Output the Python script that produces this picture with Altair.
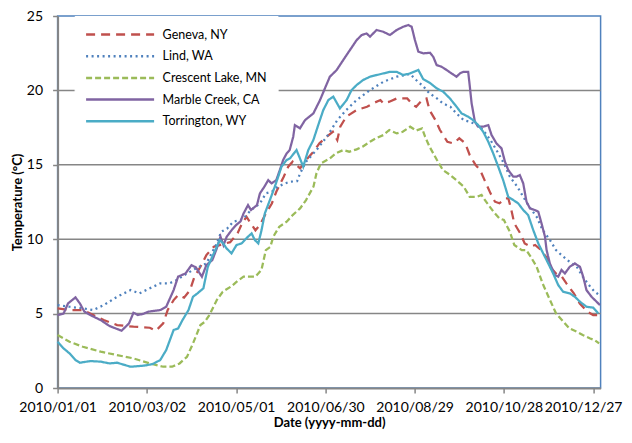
import altair as alt
import pandas as pd

SERIES = ["Geneva, NY", "Lind, WA", "Crescent Lake, MN", "Marble Creek, CA", "Torrington, WY"]
COLORS = ["#C0504D", "#4F81BD", "#9BBB59", "#8064A2", "#4BACC6"]
DASHES = [[9, 6], [2, 3.5], [6, 3], [1, 0], [1, 0]]

# day offsets from 2010-01-01 and temperatures (deg C)
geneva_day = [0, 8, 17, 24, 31, 40, 51, 62, 66, 71, 74, 78, 81, 85, 89, 92, 96, 100, 105, 109,
              112, 116, 121, 124, 127, 129, 133, 136, 140, 144, 147, 152, 155, 158, 163, 167, 172, 176, 181, 185,
              188, 190, 194, 201, 208, 212, 217, 219, 223, 228, 235, 239, 241, 245, 248, 250, 254, 257, 262, 266,
              270, 274, 277, 281, 284, 287, 291, 294, 297, 301, 303, 305, 307, 311, 314, 318, 321, 325, 329, 331,
              335, 339, 342, 347, 351, 356, 360, 364]
geneva_temp = [5.35, 5.24, 5.24, 4.9, 4.57, 4.23, 4.12, 4.05, 3.85, 4.34, 5.24, 5.91, 6.25, 6.07, 6.58, 7.48, 8.15, 8.93, 9.5, 9.6,
               9.7, 9.8, 10.4, 11.06, 11.5, 11.2, 10.6, 10.95, 11.73, 12.4, 13.19, 14.2, 14.87, 15.21, 14.76, 15.32, 15.88, 16.44, 16.89, 17.22,
               16.66, 17.56, 18.23, 18.68, 18.9, 19.13, 19.35, 19.13, 19.24, 19.46, 19.46, 19.02, 18.9, 19.35, 19.46, 18.68, 18.0, 17.34, 16.55, 16.44,
               16.78, 16.44, 15.66, 14.98, 14.65, 13.97, 13.08, 12.52, 12.41, 12.74, 12.74, 11.96, 11.06, 10.39, 9.72, 9.5, 9.61, 9.27, 8.71, 8.15,
               7.7, 7.48, 7.03, 6.36, 5.68, 5.13, 4.9, 4.9]

lind_day = [0, 8, 17, 24, 31, 40, 49, 55, 62, 69, 75, 80, 87, 93, 100, 107, 110, 114, 118, 123,
            126, 130, 136, 140, 144, 148, 153, 156, 161, 163, 167, 174, 181, 188, 194, 201, 210, 219, 228, 237,
            241, 246, 250, 255, 259, 264, 268, 273, 277, 282, 286, 291, 295, 300, 304, 309, 313, 317, 322, 326,
            331, 335, 340, 344, 349, 353, 358, 361, 364]
lind_temp = [5.57, 5.46, 5.35, 5.24, 5.57, 6.13, 6.58, 6.36, 6.7, 7.03, 7.03, 7.25, 7.7, 8.04, 8.37, 9.72, 10.5, 10.72, 11.17, 11.29,
             11.51, 11.96, 12.4, 13.08, 13.19, 13.53, 13.75, 13.86, 13.9, 14.42, 15.21, 15.99, 16.89, 18.0, 18.68, 19.35, 20.02, 20.58, 20.92, 21.1,
             20.7, 20.25, 19.8, 19.46, 19.13, 18.9, 18.46, 18.0, 17.9, 17.67, 17.34, 16.66, 15.99, 15.1, 14.2, 13.53, 12.85, 12.18, 11.51, 10.62,
             9.94, 9.27, 8.82, 8.49, 8.15, 7.48, 6.81, 6.47, 6.25]

crescent_day = [0, 8, 17, 29, 40, 51, 62, 71, 77, 82, 87, 91, 96, 99, 102, 107, 111, 117, 121, 125,
                133, 137, 140, 143, 145, 149, 154, 158, 163, 167, 172, 174, 177, 183, 187, 192, 196, 201, 205, 210,
                214, 219, 223, 228, 232, 237, 241, 245, 247, 250, 255, 259, 264, 268, 273, 277, 282, 285, 288, 293,
                297, 300, 304, 307, 312, 315, 318, 322, 326, 331, 335, 340, 344, 349, 353, 358, 361, 364]
crescent_temp = [3.56, 3.11, 2.77, 2.44, 2.21, 1.99, 1.65, 1.43, 1.43, 1.65, 2.1, 2.99, 4.23, 4.45, 4.9, 5.91, 6.47, 6.85, 7.2, 7.48,
                 7.48, 7.93, 9.27, 9.49, 10.17, 10.84, 11.18, 11.62, 12.07, 12.63, 13.53, 14.42, 15.1, 15.43, 15.77, 15.99, 15.88, 16.04, 16.22, 16.55,
                 16.78, 17.0, 17.34, 17.11, 17.22, 17.56, 17.3, 17.45, 16.89, 16.22, 15.32, 14.65, 14.31, 13.97, 13.53, 12.85, 12.85, 12.97, 12.52, 11.85,
                 11.4, 11.29, 10.5, 9.61, 9.27, 9.27, 8.82, 8.15, 7.03, 5.91, 5.02, 4.46, 4.01, 3.78, 3.56, 3.33, 3.22, 3.0]

marble_day = [0, 4, 7, 12, 15, 18, 22, 29, 35, 43, 48, 51, 54, 58, 61, 69, 73, 78, 81, 86,
              90, 93, 97, 100, 104, 107, 109.5, 111.5, 113.7, 117, 120, 123, 125, 128, 130, 134, 136, 139, 141.6, 143.8,
              147, 149.4, 151.6, 154, 156, 158.4, 159.5, 162.9, 166.3, 171.9, 176.4, 179.7, 183, 187.6, 192, 196.5, 201, 204.4, 207.7, 210,
              214.4, 218.9, 223.4, 227.9, 232.4, 235.7, 238, 240.2, 242.5, 245.8, 250.3, 252.5, 254.8, 258.1, 261.5, 264.8, 268.2, 270.4, 272.7, 276,
              277.1, 278.3, 280.5, 282.7, 286.1, 289.5, 291.7, 295, 298.4, 300.7, 302.9, 306.3, 308.5, 310.7, 313, 315.2, 317.5, 320.8, 323.1, 325.3,
              327.6, 328.7, 330.9, 334.3, 336.5, 338.7, 341, 344.3, 347.7, 351.1, 353.3, 355.5, 358.9, 362.3, 364.5]
marble_temp = [4.9, 5.0, 5.68, 6.09, 5.68, 5.13, 4.9, 4.56, 4.16, 3.85, 4.34, 5.06, 4.9, 5.0, 5.13, 5.24, 5.46, 6.58, 7.48, 7.7,
               8.26, 8.1, 7.48, 8.26, 8.6, 9.38, 10.17, 9.6, 10.17, 10.61, 10.95, 11.2, 11.73, 12.29, 11.96, 12.29, 13.08, 13.53, 13.97, 13.75,
               13.97, 14.65, 15.32, 15.77, 15.99, 16.89, 17.67, 17.45, 18.0, 18.45, 19.35, 20.14, 20.92, 21.37, 22.04, 22.71, 23.38, 23.72, 23.83, 23.61,
               24.06, 23.94, 23.72, 24.06, 24.28, 24.39, 24.28, 23.38, 22.6, 22.49, 22.53, 22.26, 21.7, 21.59, 21.37, 21.14, 20.92, 21.14, 21.25, 21.25,
               20.25, 19.13, 17.9, 17.56, 17.56, 17.67, 17.0, 16.44, 16.1, 15.21, 14.65, 14.2, 14.2, 14.31, 13.75, 12.52, 12.07, 11.96, 11.85, 11.06,
               10.17, 9.27, 8.37, 7.59, 7.48, 7.93, 7.7, 8.15, 8.37, 8.15, 7.48, 6.58, 6.13, 5.8, 5.57]

torrington_day = [0, 4, 8, 12, 15, 22, 29, 35, 40, 49, 58, 64, 69, 73, 78, 81, 84, 88, 91, 94,
                  98, 101, 105, 109, 111.3, 113.6, 116.9, 120.3, 123.7, 128, 130.4, 132.6, 134.9, 137.1, 139.3, 142.7, 146, 148.3, 150.5, 153.9,
                  156.2, 160.6, 162.9, 165.1, 168.5, 171.9, 175.2, 178.6, 182, 185.3, 189.8, 194.3, 197.6, 201, 205.4, 210, 214.4, 218.9, 223.4, 227.9,
                  232.4, 236.8, 242.5, 245.8, 250.3, 254.8, 259.2, 263.7, 268.2, 271.5, 276, 279.4, 282.7, 286.1, 289.5, 292.8, 296.2, 299.5, 302.9, 306.3,
                  309.6, 313, 316.3, 319.7, 323.1, 326.4, 329.8, 333.1, 336.5, 339.8, 344.3, 347.7, 351.1, 355.5, 360, 363.4]
torrington_temp = [3.11, 2.66, 2.33, 1.88, 1.7, 1.81, 1.77, 1.65, 1.7, 1.43, 1.5, 1.61, 1.88, 2.55, 3.9, 4.0, 4.57, 5.24, 6.13, 6.36,
                   6.7, 8.15, 9.05, 9.94, 9.72, 9.38, 9.05, 9.61, 9.72, 10.17, 10.39, 9.94, 9.72, 10.61, 11.73, 12.63, 13.53, 14.2, 14.87, 15.32,
                   15.43, 15.99, 15.43, 14.87, 15.99, 16.66, 17.67, 18.68, 19.35, 19.58, 18.79, 19.35, 20.02, 20.36, 20.7, 20.92, 21.03, 21.14, 21.25, 21.25,
                   21.03, 21.14, 21.37, 20.75, 20.5, 20.14, 19.91, 19.46, 18.9, 18.46, 18.23, 18.0, 17.67, 17.22, 16.55, 15.77, 14.87, 13.97, 12.85, 12.63,
                   12.41, 11.96, 11.62, 10.62, 9.72, 9.05, 8.37, 7.7, 6.92, 6.47, 6.36, 6.13, 5.8, 5.46, 5.4, 5.02]

X_TICKS = [(1, 1), (3, 2), (5, 1), (6, 30), (8, 29), (10, 28), (12, 27)]
Y_TICKS = [0, 5, 10, 15, 20, 25]
Y_GRID = [5, 10, 15, 20]

START = pd.Timestamp("2010-01-01")
rows = []
for name, days, temps in zip(
    SERIES,
    [geneva_day, lind_day, crescent_day, marble_day, torrington_day],
    [geneva_temp, lind_temp, crescent_temp, marble_temp, torrington_temp],
):
    for d, t in zip(days, temps):
        rows.append({"date": START + pd.to_timedelta(d, unit="D"), "temp": t, "site": name})
df = pd.DataFrame(rows)
grid_df = pd.DataFrame({"g": Y_GRID})

GRAY = "#868686"
FONT = "Lato"

x_axis = alt.Axis(
    values=[alt.DateTime(year=2010, month=m, date=d) for m, d in X_TICKS],
    format="%Y/%m/%d", grid=False, labelOverlap=False, labelFlush=False,
    labelOffset={"condition": {"test": "datum.index > 0.9", "value": -10}, "value": 0},
    labelFont=FONT, labelFontSize=14, labelColor="black", labelPadding=7,
    tickColor=GRAY, tickSize=5, tickWidth=1.5,
    domainColor=GRAY, domainWidth=2,
    title="Date (yyyy-mm-dd)", titleFont=FONT, titleFontSize=13, titleFontWeight="bold",
    titleColor="black", titlePadding=2,
)
y_axis = alt.Axis(
    values=Y_TICKS, grid=False, labelOverlap=False,
    labelFont=FONT, labelFontSize=14, labelColor="black", labelPadding=10,
    tickColor=GRAY, tickSize=5, tickWidth=1.5,
    domainColor=GRAY, domainWidth=2,
    title="Temperature (°C)", titleFont=FONT, titleFontSize=13, titleFontWeight="bold",
    titleColor="black", titlePadding=2,
)

x_scale = alt.Scale(domain=[alt.DateTime(year=2010, month=1, date=1), alt.DateTime(year=2011, month=1, date=1)])
y_scale = alt.Scale(domain=[0, 25])

legend = alt.Legend(
    title=None, orient="none", legendX=17, legendY=0, padding=10,
    fillColor="white", strokeColor="white",
    symbolType="M-5,0H5", symbolSize=185, symbolStrokeWidth=2.5, symbolOffset=27,
    labelFont=FONT, labelFontSize=12.5, labelColor="black", labelOffset=34,
    rowPadding=6.7,
)

lines = alt.Chart(df).mark_line(strokeWidth=2.25).encode(
    x=alt.X("date:T", scale=x_scale, axis=x_axis),
    y=alt.Y("temp:Q", scale=y_scale, axis=y_axis),
    color=alt.Color("site:N", scale=alt.Scale(domain=SERIES, range=COLORS), legend=legend, sort=SERIES),
    strokeDash=alt.StrokeDash("site:N", scale=alt.Scale(domain=SERIES, range=DASHES), legend=legend, sort=SERIES),
    order=alt.Order("date:T"),
)

grid = alt.Chart(grid_df).mark_rule(color=GRAY, strokeWidth=1.5).encode(
    y=alt.Y("g:Q", scale=y_scale, axis=y_axis)
)

chart = alt.layer(grid, lines).properties(
    width=543, height=372,
    autosize=alt.AutoSizeParams(type="none"),
    padding={"left": 49.6, "top": 8, "right": 23.4, "bottom": 42},
).configure_view(stroke="#4F81BD", strokeWidth=1.5)

chart.save("out.html", embed_options={"renderer": "svg", "actions": False})
